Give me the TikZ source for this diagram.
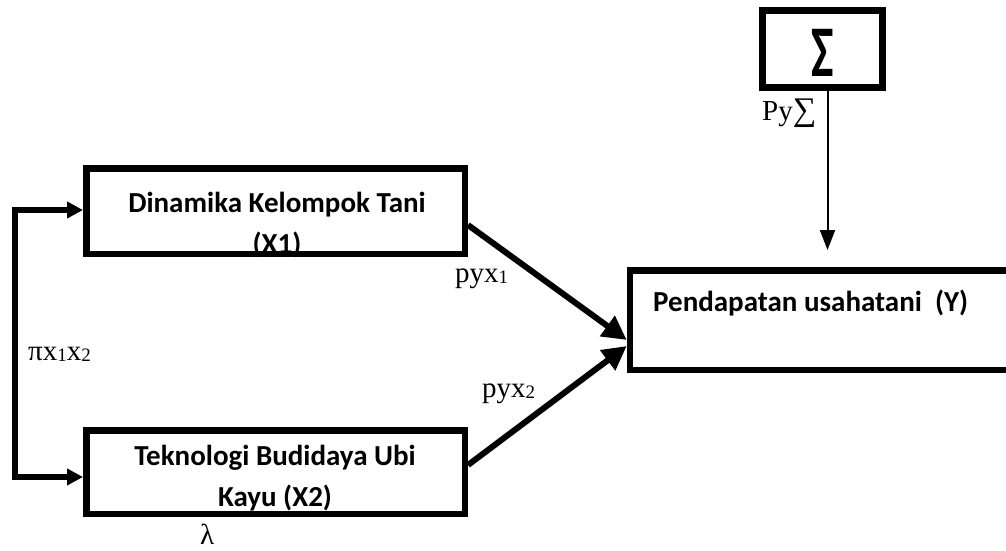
\documentclass[tikz,border=0pt]{standalone}
\usepackage{fontspec}
\setmainfont{Liberation Serif}
\newfontfamily\calfont{Carlito}
\usetikzlibrary{arrows.meta,calc}
\newcommand\lowidx[1]{\raisebox{-1pt}{\fontsize{19}{19}\selectfont #1}}
\begin{document}
\begin{tikzpicture}[x=1pt,y=-1pt,
 box/.style={draw, line width=6.5pt, rectangle, inner sep=0pt},
 lbl/.style={font=\calfont\bfseries\fontsize{29}{41}\selectfont, align=center, inner sep=0pt},
 sym/.style={font=\fontsize{29}{33}\selectfont, inner sep=0pt, anchor=base west},
 main/.style={line width=6pt, -{Triangle[length=24pt,width=24pt]}},
 side/.style={line width=5.5pt, line join=miter, {Triangle[length=16pt,width=16pt]}-{Triangle[length=16pt,width=16pt]}},
 thinarrow/.style={line width=2pt, -{Triangle[length=20pt,width=15pt]}}]
\path[use as bounding box, clip] (0,0) rectangle (1006,551);
\fill[white] (0,0) rectangle (1006,551);
% boxes
\node[box, minimum width=378.5pt, minimum height=85.5pt] (x1) at (275.5,211) {};
\node[box, minimum width=378.5pt, minimum height=83.5pt] (x2) at (275.5,472) {};
\node[box, minimum width=382pt, minimum height=99.5pt] (y) at (821,320) {};
\node[box, line width=7pt, minimum width=120pt, minimum height=77pt] (s) at (822.5,49) {};
% box texts
\node[lbl] (x1t) at (277,225) {Dinamika Kelompok Tani\\(X1)};
\node[lbl] (x2t) at (275,478.5) {Teknologi Budidaya Ubi\\Kayu (X2)};
\node[lbl, anchor=base west] (yt) at (653,311.5) {Pendapatan usahatani\ \ (Y)};
\node[font=\calfont\bfseries\fontsize{56}{60}\selectfont, inner sep=0pt] (st) at (822.5,53) {\scalebox{0.85}[1.3]{Σ}};
% labels
\node[sym] (l1) at (455,282) {pyx\lowidx{1}};
\node[sym] (l2) at (482,397) {pyx\lowidx{2}};
\node[sym] (l3) at (762,120) {Py{\fontsize{33}{33}\selectfont∑}};
\node[sym] (l4) at (28,360) {πx\lowidx{1}x\lowidx{2}};
\node[sym] (l5) at (200,544) {λ};
% connectors
\draw[main] ([yshift=-14pt]x1.east) -- ([yshift=-20pt]y.west);
\draw[main] ([yshift=7pt]x2.east) -- ([yshift=-26pt]y.west);
\coordinate (ltop) at (15,210);
\coordinate (lbot) at (15,477);
\draw[side] (x1.west |- ltop) -- (ltop) -- (lbot) -- (x2.west |- lbot);
\coordinate (stip) at (827.5,250);
\draw[thinarrow] (s.south -| stip) -- (stip);
\end{tikzpicture}
\end{document}
